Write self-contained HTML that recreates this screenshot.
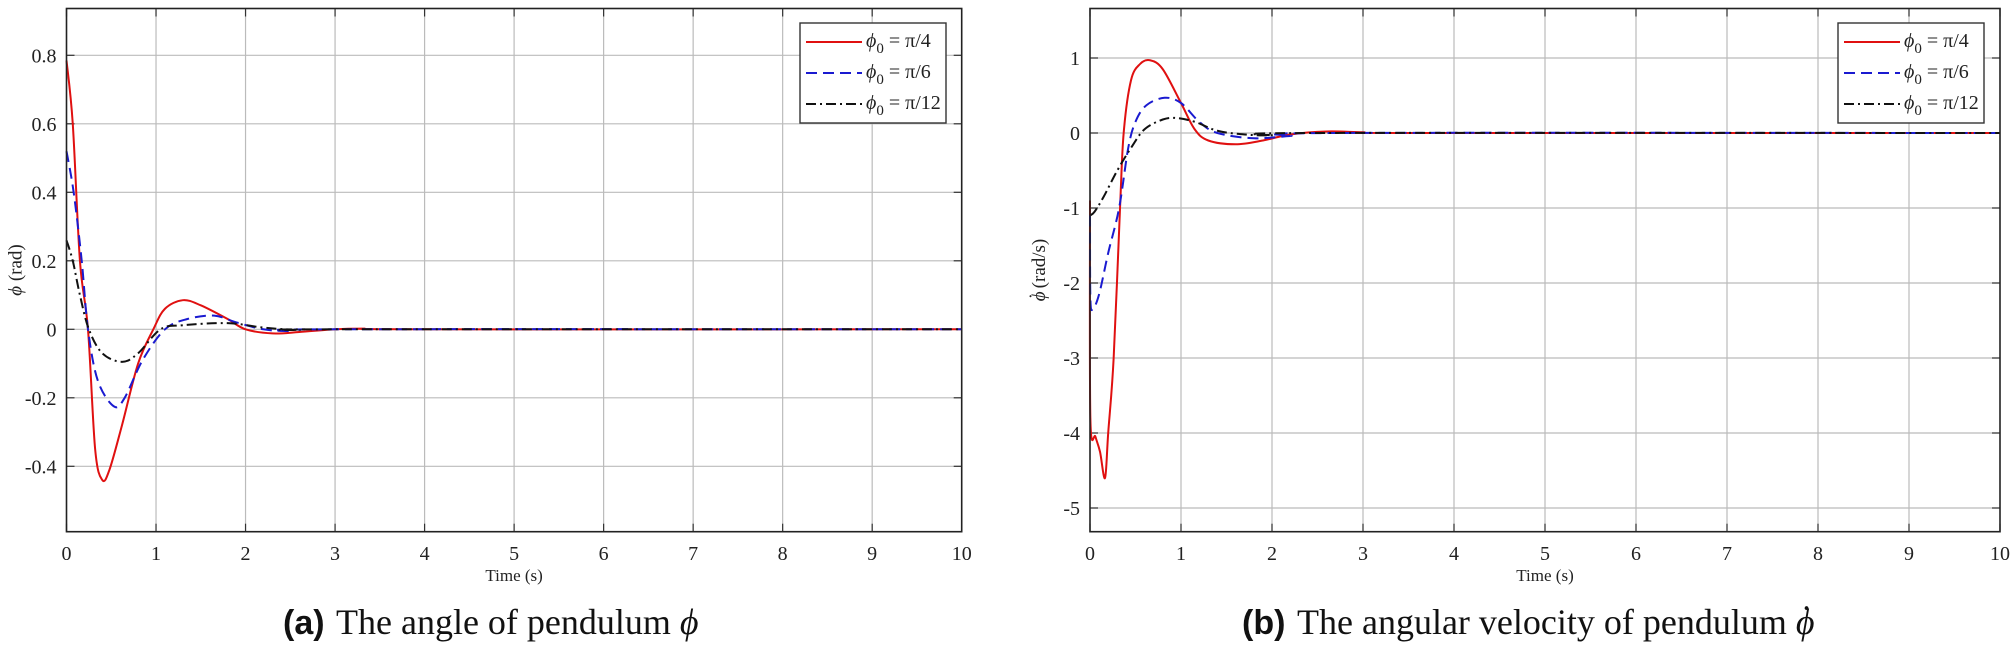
<!DOCTYPE html>
<html><head><meta charset="utf-8"><style>
html,body{margin:0;padding:0;background:#fff;width:2013px;height:650px;overflow:hidden}
svg{display:block}
text{font-family:"Liberation Serif",serif;fill:#222}
</style></head><body>
<svg id="s" width="2013" height="650" xmlns="http://www.w3.org/2000/svg">
<g id="g"></g>
<text x="283" y="634" style="font-family:'Liberation Sans',sans-serif;font-weight:bold;font-size:34px;fill:#111">(a)</text>
<text x="336" y="634" style="font-size:36px;fill:#111">The angle of pendulum <tspan font-style="italic">ϕ</tspan></text>
<text x="1242" y="634" style="font-family:'Liberation Sans',sans-serif;font-weight:bold;font-size:34px;fill:#111">(b)</text>
<text x="1297" y="634" style="font-size:36px;fill:#111">The angular velocity of pendulum <tspan font-style="italic">ϕ</tspan><tspan dx="-14" dy="-4">˙</tspan></text>
</svg>
<script>
const NS="http://www.w3.org/2000/svg",G=document.getElementById('g');
function el(t,a,txt){const e=document.createElementNS(NS,t);for(const k in a)e.setAttribute(k,a[k]);if(txt!=null)e.textContent=txt;G.appendChild(e);return e;}
function path(pts,X,Y){let p=pts.map(q=>[X(q[0]),Y(q[1])]);let d="M"+p[0][0]+","+p[0][1];
 for(let i=0;i<p.length-1;i++){const p0=p[i-1]||p[i],p1=p[i],p2=p[i+1],p3=p[i+2]||p2;
  d+=` C${p1[0]+(p2[0]-p0[0])/6},${p1[1]+(p2[1]-p0[1])/6} ${p2[0]-(p3[0]-p1[0])/6},${p2[1]-(p3[1]-p1[1])/6} ${p2[0]},${p2[1]}`;}
 return d;}
function plot(o){
 const X=t=>o.x0+t*(o.x1-o.x0)/10, Y=v=>o.y0v-(v)*o.ys;
 for(let i=1;i<10;i++){el('line',{x1:X(i),x2:X(i),y1:o.top,y2:o.bot,stroke:'#bbb','stroke-width':1.2});}
 o.yt.forEach(v=>{el('line',{x1:o.x0,x2:o.x1,y1:Y(v),y2:Y(v),stroke:'#bbb','stroke-width':1.2});
  el('text',{x:o.x0-10,y:Y(v)+7,'text-anchor':'end','font-size':20},o.fmt(v));
  el('line',{x1:o.x0,x2:o.x0+8,y1:Y(v),y2:Y(v),stroke:'#333','stroke-width':1.2});
  el('line',{x1:o.x1-8,x2:o.x1,y1:Y(v),y2:Y(v),stroke:'#333','stroke-width':1.2});});
 for(let i=0;i<=10;i++){el('text',{x:X(i),y:560,'text-anchor':'middle','font-size':20},String(i));
  el('line',{x1:X(i),x2:X(i),y1:o.bot,y2:o.bot-8,stroke:'#333','stroke-width':1.2});
  el('line',{x1:X(i),x2:X(i),y1:o.top,y2:o.top+8,stroke:'#333','stroke-width':1.2});}
 el('text',{x:(o.x0+o.x1)/2,y:581,'text-anchor':'middle','font-size':17},'Time (s)');
 const yl=el('text',{x:0,y:0,'text-anchor':'middle','font-size':19,transform:`translate(${o.x0-45},${o.ylc}) rotate(-90)`});
 yl.innerHTML=o.ylab;
 const st=[{c:'#e01010',d:''},{c:'#1a1ad0',d:'11,6'},{c:'#111',d:'10,4,2,4'}];
 o.series.forEach((s,i)=>el('path',{d:path(s,X,Y),fill:'none',stroke:st[i].c,'stroke-width':2,'stroke-dasharray':st[i].d,'stroke-linejoin':'round'}));
 el('rect',{x:o.x0,y:o.top,width:o.x1-o.x0,height:o.bot-o.top,fill:'none',stroke:'#222','stroke-width':1.6});
 const lx=o.lx;el('rect',{x:lx,y:23,width:146,height:100,fill:'#fff',stroke:'#333','stroke-width':1.4});
 ['π/4','π/6','π/12'].forEach((t,i)=>{const y=40+i*31;
  el('line',{x1:lx+6,x2:lx+62,y1:y+2,y2:y+2,stroke:st[i].c,'stroke-width':2,'stroke-dasharray':st[i].d});
  const tx=el('text',{x:lx+66,y:y+7,'font-size':20});tx.innerHTML=`<tspan font-style="italic">ϕ</tspan><tspan font-size="15" dy="6">0</tspan><tspan dy="-6"> = ${t}</tspan>`;});
}
plot({x0:66.5,x1:961.7,top:8.5,bot:531.7,y0v:329.3,ys:342.5,lx:800,ylc:270,
 yt:[0.8,0.6,0.4,0.2,0,-0.2,-0.4],fmt:v=>v==0?'0':v.toFixed(1),
 ylab:'<tspan font-style="italic">ϕ</tspan> (rad)',
 series:[
 [[0,0.785],[0.07,0.6],[0.15,0.2],[0.24,0],[0.32,-0.35],[0.4,-0.44],[0.48,-0.41],[0.62,-0.28],[0.8,-0.1],[0.97,0.0],[1.1,0.06],[1.3,0.085],[1.5,0.07],[1.8,0.03],[2.0,0.0],[2.3,-0.012],[2.6,-0.008],[3.0,0],[3.3,0.002],[4,0],[10,0]],
 [[0,0.52],[0.08,0.4],[0.17,0.2],[0.24,0],[0.35,-0.15],[0.53,-0.225],[0.65,-0.2],[0.85,-0.09],[1.1,0.0],[1.35,0.03],[1.65,0.04],[1.9,0.02],[2.2,0],[2.5,-0.005],[3,0],[10,0]],
 [[0,0.26],[0.07,0.2],[0.15,0.1],[0.25,0],[0.4,-0.07],[0.62,-0.095],[0.8,-0.07],[1.05,0.0],[1.3,0.012],[1.8,0.018],[2.2,0.005],[2.6,-0.002],[3,0],[10,0]]]});
plot({x0:1090,x1:2000,top:8.5,bot:531.7,y0v:133,ys:75,lx:1838,ylc:270,
 yt:[1,0,-1,-2,-3,-4,-5],fmt:v=>String(v),
 ylab:'<tspan font-style="italic">ϕ</tspan><tspan dx="-8" dy="-3">˙</tspan><tspan dy="3"> (rad/s)</tspan>',
 series:[
 [[0,-0.9],[0.004,-3.8],[0.06,-4.05],[0.11,-4.25],[0.165,-4.6],[0.2,-4.0],[0.26,-3.0],[0.33,-1.0],[0.37,0],[0.45,0.7],[0.55,0.92],[0.66,0.97],[0.8,0.85],[1.0,0.4],[1.15,0.05],[1.3,-0.1],[1.6,-0.15],[1.9,-0.1],[2.2,-0.02],[2.6,0.02],[3,0.01],[3.5,0],[10,0]],
 [[0,-1.1],[0.004,-2.2],[0.03,-2.35],[0.1,-2.15],[0.2,-1.6],[0.32,-1.0],[0.42,-0.2],[0.5,0.15],[0.62,0.37],[0.82,0.47],[1.0,0.4],[1.2,0.15],[1.4,0.0],[1.8,-0.07],[2.2,-0.04],[2.7,0],[10,0]],
 [[0,-1.1],[0.05,-1.05],[0.15,-0.85],[0.3,-0.5],[0.45,-0.2],[0.6,0.05],[0.8,0.18],[0.95,0.2],[1.15,0.15],[1.4,0.03],[1.7,-0.02],[2.0,-0.03],[2.5,0],[10,0]]]});
</script>
</body></html>
